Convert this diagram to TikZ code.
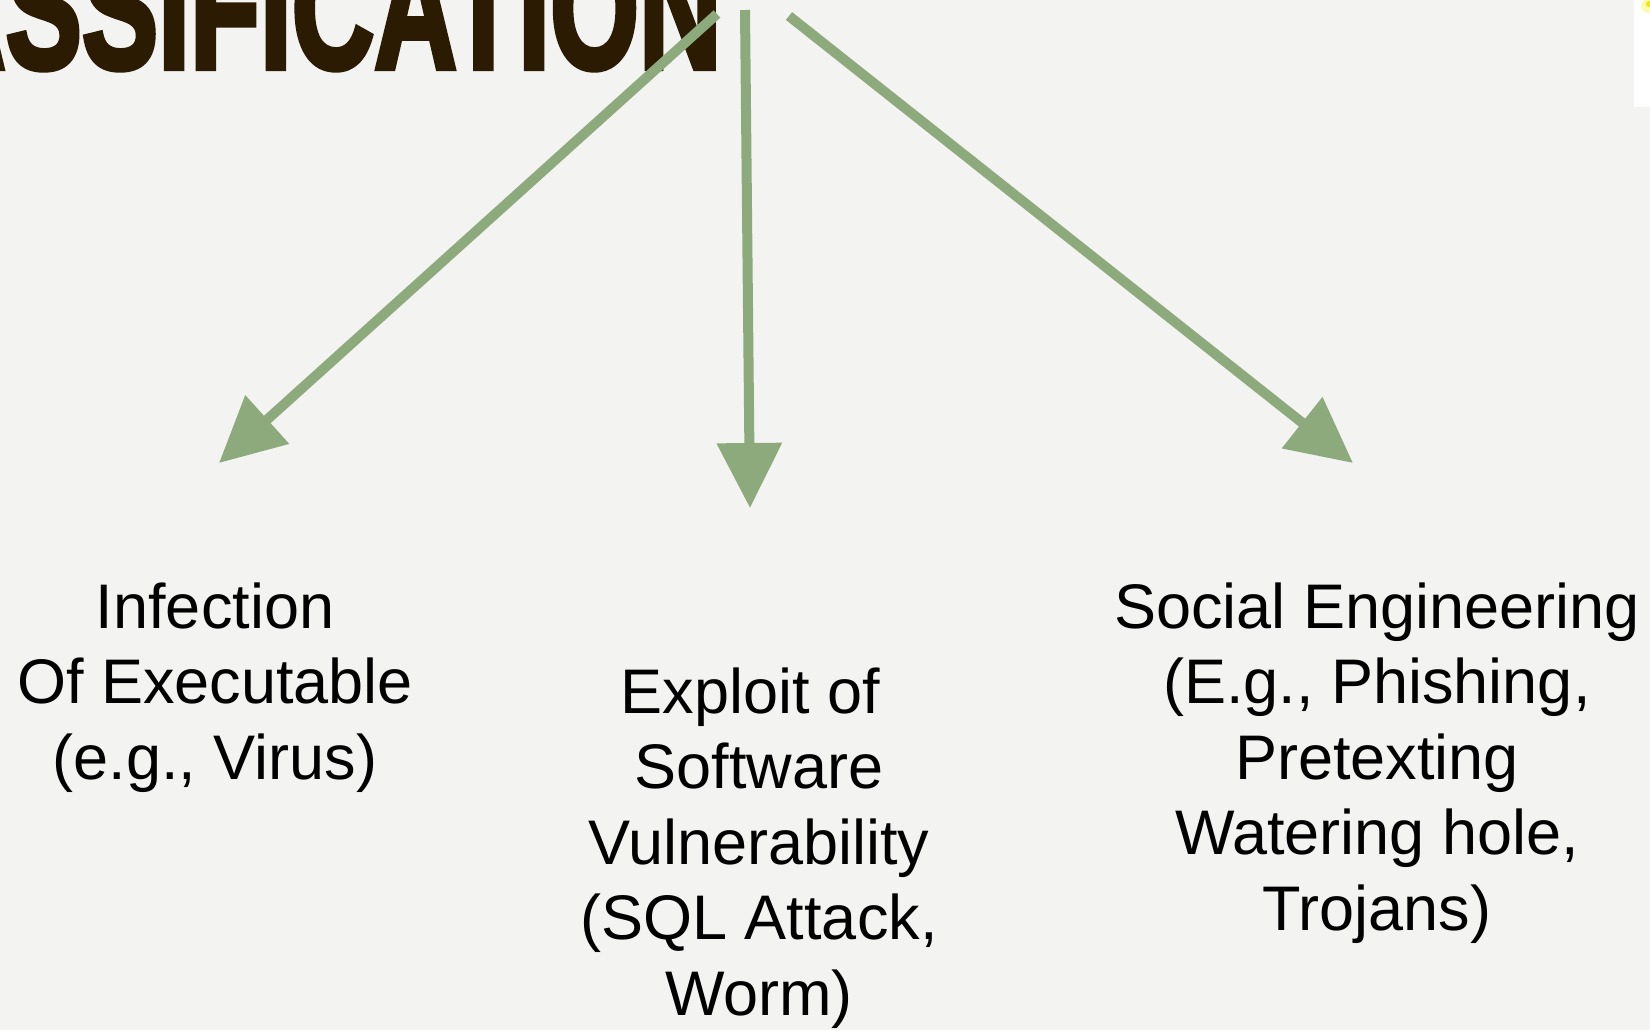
\documentclass[tikz,border=0pt]{standalone}
\usepackage{fontspec}
\setmainfont{Liberation Sans}
\newfontfamily\headfont{Liberation Sans}[BoldFeatures={FakeBold=3.5}]
\usetikzlibrary{arrows.meta}

\definecolor{pagebg}{HTML}{F3F3F1}
\definecolor{arrowgreen}{HTML}{8DAA7C}
\definecolor{headbrown}{HTML}{2B1B02}

\tikzset{
  branch/.style={draw=arrowgreen, line width=5pt,
    -{Triangle[length=32.5pt,width=31.5pt]}},
  % multi-line labels are placed by the baseline of their last line
  label/.style={align=center, inner sep=0pt, anchor=base,
    font=\fontsize{31.5}{37.75}\selectfont},
  heading/.style={inner sep=0pt, anchor=base east, text=headbrown,
    font=\headfont\bfseries\fontsize{86}{86}\selectfont}
}
\newcommand\trailsp{\hspace*{0.278em}}

\begin{document}
\begin{tikzpicture}[x=0.5pt,y=-0.5pt]
  % page
  \fill[pagebg] (0,0) rectangle (1650,1030);
  \useasboundingbox (0,0) rectangle (1650,1030);
  \clip (0,0) rectangle (1650,1030);

  % strip at the right edge
  \fill[white] (1634,0) rectangle (1650,107);
  \fill[yellow!60, opacity=0.5] (1648,6) circle (7);
  \fill[yellow!85!orange] (1649,4) circle (3);

  % heading
  \node[heading] (title) at (722,68) {\scalebox{0.665}[1]{ASSIFICATION}};

  % branch origins and tips
  \coordinate (srcL) at (717,14);
  \coordinate (srcM) at (745,10);
  \coordinate (srcR) at (789,16);
  \coordinate (tipL) at (219,463);
  \coordinate (tipM) at (750,508);
  \coordinate (tipR) at (1353,463);

  \draw[branch] (srcL) -- (tipL);
  \draw[branch] (srcM) -- (tipM);
  \draw[branch] (srcR) -- (tipR);

  % categories
  \node[label] (infection) at (215,779)
    {Infection\\Of Executable\\(e.g., Virus)};
  \node[label] (exploit) at (759,1015)
    {Exploit of\trailsp\\Software\\Vulnerability\\(SQL Attack,\trailsp\\Worm)};
  \node[label] (social) at (1377,930)
    {Social Engineering\\(E.g., Phishing,\\Pretexting\trailsp\\Watering hole,\\Trojans)};
\end{tikzpicture}
\end{document}
